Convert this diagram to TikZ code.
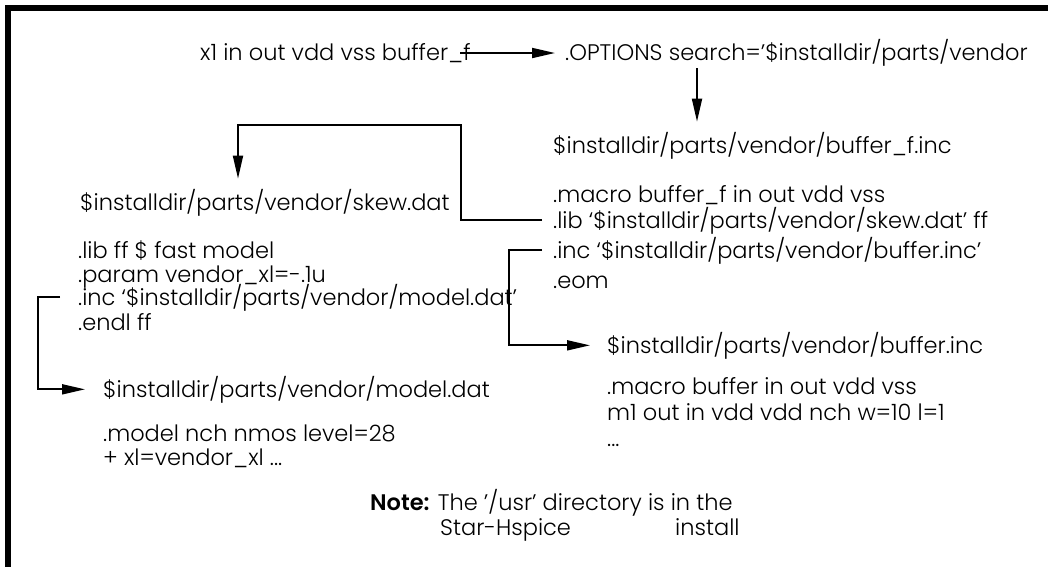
\documentclass[tikz,border=0pt]{standalone}
\usepackage{fontspec}
\setmainfont{Poppins}[UprightFont=* Light, BoldFont=* SemiBold]
\usetikzlibrary{arrows.meta,calc}
\begin{document}
\begin{tikzpicture}[x=1pt,y=-1pt,
  txt/.style={anchor=base west,inner sep=0pt,font=\fontsize{22.5}{27}\selectfont},
  conn/.style={line width=1.8pt},
  arr/.style={conn,-{Triangle[length=23pt,width=10pt]}},
  frame/.style={line width=6pt}
]
\useasboundingbox (0,0) rectangle (1048,566);
\draw[frame] (1052,8) -- (8,8) -- (8,570);

% top row
\node[txt] (x1) at (200,60) {x1 in out vdd vss buffer\_f};
\node[txt] (opt) at (565,60) {.OPTIONS search=’\$installdir/parts/vendor};

% buffer_f.inc block
\node[txt] (bfinc) at (553,153) {\$installdir/parts/vendor/buffer\_f.inc};
\node[txt] (bfmac) at (553,202) {.macro buffer\_f in out vdd vss};
\node[txt] (bflib) at (553,228) {.lib ‘\$installdir/parts/vendor/skew.dat’ ff};
\node[txt] (bfincl) at (553,258) {.inc ‘\$installdir/parts/vendor/buffer.inc’};
\node[txt] (bfeom) at (553,288) {.eom};

% skew.dat block
\node[txt] (skew) at (80,210) {\$installdir/parts/vendor/skew.dat};
\node[txt] (sklib) at (78,258) {.lib ff \$ fast model};
\node[txt] (skpar) at (78,282) {.param vendor\_xl=-.1u};
\node[txt] (skinc) at (78,305) {.inc ‘\$installdir/parts/vendor/model.dat’};
\node[txt] (skend) at (78,330) {.endl ff};

% model.dat block
\node[txt] (mdat) at (103,397) {\$installdir/parts/vendor/model.dat};
\node[txt] (mmod) at (103,441) {.model nch nmos level=28};
\node[txt] (mxl) at (103,465) {+ xl=vendor\_xl ...};

% buffer.inc block
\node[txt] (binc) at (607,353) {\$installdir/parts/vendor/buffer.inc};
\node[txt] (bmac) at (607,394) {.macro buffer in out vdd vss};
\node[txt] (bm1) at (607,420) {m1 out in vdd vdd nch w=10 l=1};
\node[txt] (bdots) at (607,446) {...};

% note
\node[txt] (note) at (370,510) {\textbf{Note:} The ’/usr’ directory is in the};
\node[txt] (star) at (440,535) {Star-Hspice};
\node[txt] (inst) at (675,535) {install};

% connectors
\coordinate (a1) at (460,53);
\draw[arr] (a1) -- ($(a1 -| opt.west)+(-10,0)$);
\coordinate (a2) at (697,68);
\draw[arr] (a2) -- ($(a2 |- bfinc.north)+(0,-10)$);
\coordinate (k1) at (461,125);
\coordinate (k2) at (238,125);
\draw[arr] ($(bflib.west)+(-11,0)$) -| (k1) -- (k2) -- ($(k2 |- skew.north)+(0,-10)$);
\coordinate (k3) at (38,0);
\draw[arr] ($(skinc.west)+(-18,0)$) -| (k3 |- mdat.west) -- ($(mdat.west)+(-18,0)$);
\coordinate (k4) at (509,0);
\draw[arr] ($(bfincl.west)+(-11,0)$) -| (k4 |- binc.west) -- ($(binc.west)+(-17,0)$);
\end{tikzpicture}
\end{document}
